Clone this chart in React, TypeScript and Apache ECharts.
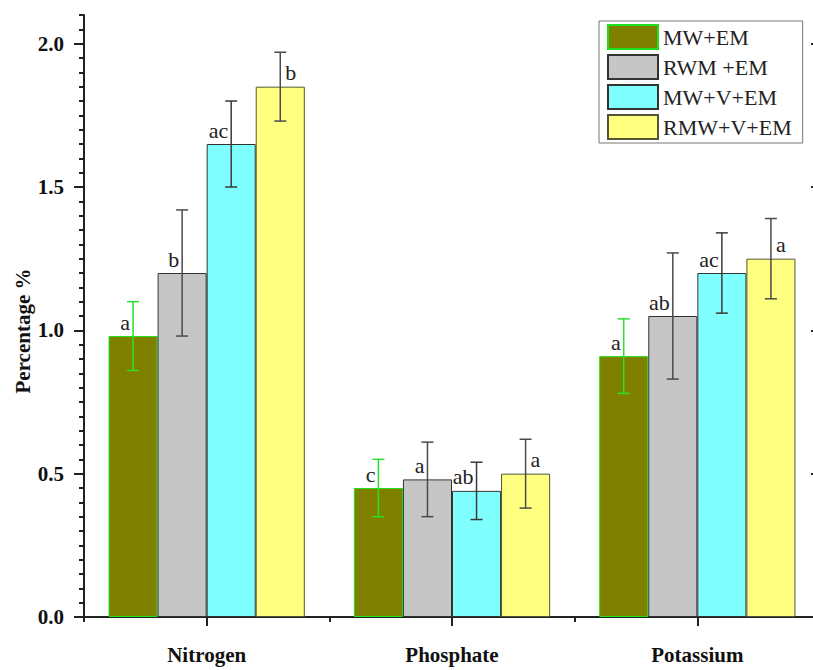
import React, { useEffect, useRef } from "react";
import * as echarts from "echarts";

const categories = ["Nitrogen", "Phosphate", "Potassium"];
const seriesNames = ["MW+EM", "RWM +EM", "MW+V+EM", "RMW+V+EM"];

const mwEm = [0.98, 0.45, 0.91];
const rwmEm = [1.2, 0.48, 1.05];
const mwVEm = [1.65, 0.44, 1.2];
const rmwVEm = [1.85, 0.5, 1.25];

const mwEmErr = [0.12, 0.1, 0.13];
const rwmEmErr = [0.22, 0.13, 0.22];
const mwVEmErr = [0.15, 0.1, 0.14];
const rmwVEmErr = [0.12, 0.12, 0.14];

const mwEmLetters = ["a", "c", "a"];
const rwmEmLetters = ["b", "a", "ab"];
const mwVEmLetters = ["ac", "ab", "ac"];
const rmwVEmLetters = ["b", "a", "a"];

const yLabelValues = [0, 0.5, 1.0, 1.5, 2.0];

const FONT = "Times New Roman, Liberation Serif, DejaVu Serif, serif";

export default function App() {
  const ref = useRef<HTMLDivElement>(null);

  useEffect(() => {
    if (!ref.current) return;
    const chart = echarts.init(ref.current, undefined, { renderer: "svg" });

    const values = [mwEm, rwmEm, mwVEm, rmwVEm];
    const errs = [mwEmErr, rwmEmErr, mwVEmErr, rmwVEmErr];
    const letters = [mwEmLetters, rwmEmLetters, mwVEmLetters, rmwVEmLetters];
    const fills = ["#808000", "#c6c6c6", "#80ffff", "#ffff80"];
    const borders = ["#1ee01e", "#333333", "#333333", "#555533"];
    const errColors = ["#2be02b", "#4a4a4a", "#3a3a3a", "#4a4a4a"];

    const barSeries = values.map((vals, si) => ({
      type: "bar",
      name: seriesNames[si],
      xAxisIndex: 0,
      yAxisIndex: 0,
      barGap: "0%",
      barCategoryGap: "20%",
      itemStyle: { color: fills[si], borderColor: borders[si], borderWidth: 1 },
      label: {
        show: true,
        position: "top",
        distance: 3,
        align: si === 3 ? "left" : "right",
        offset: si === 3 ? [5, 0] : [-3, 0],
        fontFamily: FONT,
        fontSize: 22,
        color: "#222",
        formatter: (p: any) => letters[si][p.dataIndex],
      },
      data: vals,
      z: 2,
    }));

    const errSeries = values.map((vals, si) => ({
      type: "custom",
      name: "err" + si,
      xAxisIndex: 0,
      yAxisIndex: 0,
      z: 5,
      silent: true,
      encode: { x: 0, y: [1, 2] },
      data: vals.map((v, ci) => [ci, v - errs[si][ci], v + errs[si][ci], si]),
      renderItem: (params: any, api: any) => {
        const cat = api.value(0);
        const lo = api.value(1);
        const hi = api.value(2);
        const idx = api.value(3);
        const c = api.coord([cat, 0]);
        const bandW = api.size([1, 0])[0];
        const barW = (bandW * 0.8) / 4;
        const x = c[0] + (idx - 1.5) * barW;
        const yLo = api.coord([cat, lo])[1];
        const yHi = api.coord([cat, hi])[1];
        const cap = 6;
        const style = { stroke: errColors[idx], lineWidth: 1.5 };
        return {
          type: "group",
          children: [
            { type: "line", shape: { x1: x, y1: yLo, x2: x, y2: yHi }, style },
            { type: "line", shape: { x1: x - cap, y1: yHi, x2: x + cap, y2: yHi }, style },
            { type: "line", shape: { x1: x - cap, y1: yLo, x2: x + cap, y2: yLo }, style },
          ],
        };
      },
    }));

    const axisLineStyle = { color: "#222", width: 2 };

    chart.setOption({
      animation: false,
      backgroundColor: "#ffffff",
      textStyle: { fontFamily: FONT },
      grid: { left: 84, top: 15, right: 10, bottom: 53, containLabel: false },
      legend: {
        data: seriesNames,
        orient: "vertical",
        left: 599,
        top: 21,
        padding: [3, 11, 3, 8],
        itemGap: 4,
        itemWidth: 50,
        itemHeight: 24,
        icon: "rect",
        borderColor: "#777",
        borderWidth: 1,
        backgroundColor: "#fff",
        textStyle: { fontFamily: FONT, fontSize: 22, color: "#222" },
      },
      graphic: [
        {
          type: "text",
          x: 23,
          y: 331,
          rotation: Math.PI / 2,
          style: {
            text: "Percentage %",
            fontFamily: FONT,
            fontWeight: "bold",
            fontSize: 21,
            fill: "#111",
            textAlign: "center",
            textVerticalAlign: "middle",
          },
        },
      ],
      xAxis: [
        {
          type: "category",
          data: categories,
          position: "bottom",
          offset: 13,
          axisLine: { show: true, lineStyle: axisLineStyle },
          axisTick: { show: true, alignWithLabel: true, length: 9, lineStyle: axisLineStyle },
          axisLabel: {
            fontFamily: FONT,
            fontWeight: "bold",
            fontSize: 21,
            color: "#111",
            margin: 14,
          },
        },
        {
          type: "category",
          data: categories,
          position: "bottom",
          offset: 13,
          axisLine: { show: false },
          axisTick: { show: true, alignWithLabel: false, length: 5, lineStyle: axisLineStyle },
          axisLabel: { show: false },
        },
        {
          type: "category",
          data: categories,
          position: "top",
          axisLine: { show: true, lineStyle: axisLineStyle },
          axisTick: { show: true, alignWithLabel: true, inside: true, length: 8, lineStyle: axisLineStyle },
          axisLabel: { show: false },
        },
      ],
      yAxis: [
        {
          type: "value",
          position: "left",
          min: 0,
          max: 2.1,
          interval: 0.5,
          splitLine: { show: false },
          axisLine: { show: true, lineStyle: axisLineStyle },
          axisTick: { show: true, length: 10, customValues: yLabelValues, lineStyle: axisLineStyle },
          axisLabel: {
            customValues: yLabelValues,
            formatter: (v: number) => v.toFixed(1),
            fontFamily: FONT,
            fontWeight: "bold",
            fontSize: 21,
            color: "#111",
            margin: 20,
          },
        },
        {
          type: "value",
          position: "left",
          min: 0,
          max: 2.1,
          interval: 0.05,
          splitLine: { show: false },
          axisLine: { show: false },
          axisTick: { show: true, length: 5, lineStyle: axisLineStyle },
          axisLabel: { show: false },
        },
        {
          type: "value",
          position: "right",
          min: 0,
          max: 2.1,
          interval: 0.5,
          splitLine: { show: false },
          axisLine: { show: true, lineStyle: axisLineStyle },
          axisTick: { show: true, inside: true, length: 9, customValues: yLabelValues, lineStyle: axisLineStyle },
          axisLabel: { show: false },
        },
      ],
      series: [...barSeries, ...errSeries],
    });

    return () => {
      chart.dispose();
    };
  }, []);

  return (
    <div
      style={{
        position: "absolute",
        left: 0,
        top: 0,
        width: 813,
        height: 670,
        overflow: "hidden",
        background: "#fff",
      }}
    >
      <div ref={ref} style={{ width: 830, height: 670 }} />
    </div>
  );
}
